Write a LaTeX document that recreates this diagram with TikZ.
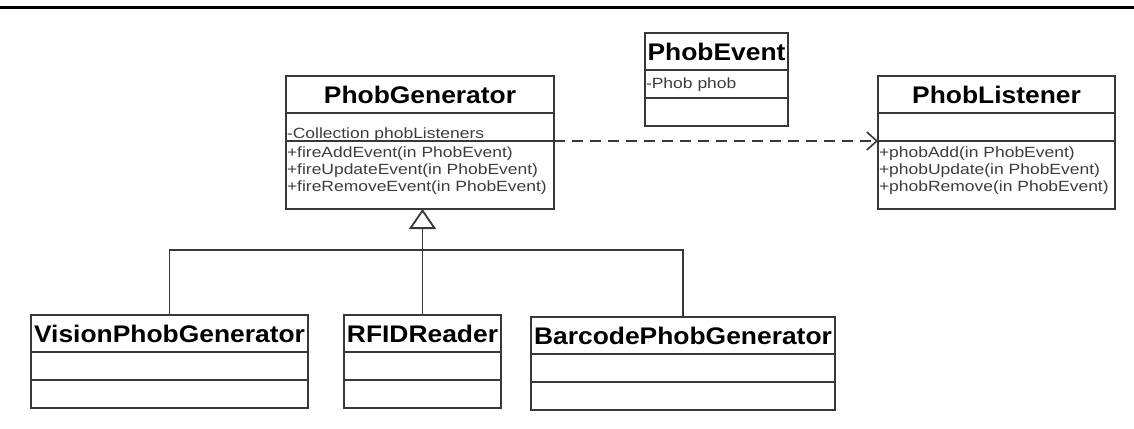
\documentclass[tikz,border=0pt]{standalone}
\usepackage{fontspec}
\newfontfamily\umlhead[FakeStretch=1.1]{Liberation Sans}
\newfontfamily\umlbody[FakeStretch=1.18]{Liberation Sans}
\usetikzlibrary{arrows.meta,positioning}
\definecolor{umlline}{HTML}{383838}
\definecolor{umltext}{HTML}{3C3C3C}
\tikzset{
  >=Stealth,
  clshead/.style={rectangle,draw=umlline,line width=0.9pt,
                  minimum height=18.5pt,inner sep=0.5pt,outer sep=0pt,
                  font=\umlhead\bfseries\fontsize{12}{14}\selectfont},
  clsattr/.style={rectangle,draw=umlline,line width=0.9pt,
                  inner xsep=0.5pt,inner ysep=0pt,outer sep=0pt,
                  align=left,text=umltext,
                  font=\umlbody\fontsize{7.4}{8.5}\selectfont,
                  text height=12.5pt,text depth=1.5pt},
  clsops/.style={clsattr,text height=8pt,text depth=26pt},
  clsempty/.style={rectangle,draw=umlline,line width=0.9pt,
                   minimum height=14pt,inner sep=0pt,outer sep=0pt},
  dep/.style={-{Straight Barb[length=5pt,width=9pt]},dashed,
              dash pattern=on 5.5pt off 3.5pt,line width=0.8pt,draw=umlline},
  inherit/.style={-{Triangle[open,length=10pt,width=13.5pt,fill=white]},
                  line width=0.9pt,draw=umlline},
  link/.style={line width=0.9pt,draw=umlline},
}
\begin{document}
\begin{tikzpicture}[x=0.5pt,y=-0.5pt,node distance=0pt]
    \useasboundingbox (0,0) rectangle (1134,428);
    % Rule at the top
    \draw[line width=1.5pt] (0,7) -- (1134,7);

    % PhobGenerator
    \node[clshead,anchor=north west,minimum width=134pt] (genT) at (286,76) {PhobGenerator};
    \node[clsattr,text width=133pt,below=of genT] (genA) {-Collection phobListeners};
    \node[clsops,text width=133pt,below=of genA] (genM)
          {+fireAddEvent(in PhobEvent)\\+fireUpdateEvent(in PhobEvent)\\+fireRemoveEvent(in PhobEvent)};

    % PhobEvent
    \node[clshead,anchor=north west,minimum width=71.5pt] (evT) at (645,33) {PhobEvent};
    \node[clsattr,text width=70.5pt,text height=9pt,text depth=5pt,below=of evT] (evA) {-Phob phob};
    \node[clsempty,minimum width=71.5pt,below=of evA] (evM) {};

    % PhobListener
    \node[clshead,anchor=north west,minimum width=118.5pt] (lisT) at (878,76) {PhobListener};
    \node[clsempty,minimum width=118.5pt,below=of lisT] (lisA) {};
    \node[clsops,text width=117.5pt,below=of lisA] (lisM)
          {+phobAdd(in PhobEvent)\\+phobUpdate(in PhobEvent)\\+phobRemove(in PhobEvent)};

    % Subclasses
    \foreach \n/\x/\y/\w/\t in {vis/31/315/138.5pt/VisionPhobGenerator,
                                rf/344/315/78.5pt/RFIDReader,
                                bar/531/317/152pt/BarcodePhobGenerator}{
      \node[clshead,anchor=north west,minimum width=\w] (\n T) at (\x,\y) {\t};
      \node[clsempty,minimum width=\w,below=of \n T] (\n A) {};
      \node[clsempty,minimum width=\w,below=of \n A] (\n M) {};
    }

    % Connectors
    \coordinate (bus) at (0,250);
    \draw[link] (visT.north) -- (visT.north |- bus) -| (barT.north);
    \draw[inherit] (rfT.north) -- (rfT.north |- genM.south);
    \draw[dep] (genM.north east) -- (genM.north east -| lisM.west);
\end{tikzpicture}
\end{document}
